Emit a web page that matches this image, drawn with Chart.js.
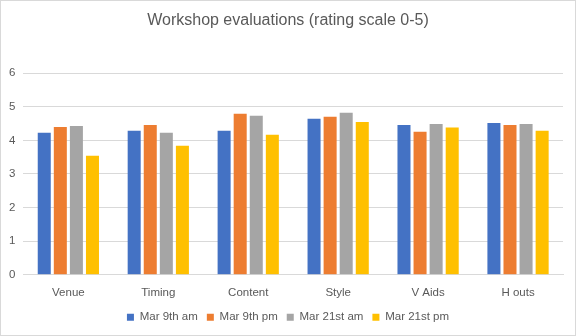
<!DOCTYPE html>
<html>
<head>
<meta charset="utf-8">
<script src="https://cdn.jsdelivr.net/npm/chart.js@4"></script>
<style>
  html, body { margin: 0; padding: 0; background: #fff; }
  #wrap { position: relative; width: 574px; height: 334px; border: 1px solid #d9d9d9; }
</style>
</head>
<body>
<div id="wrap"><canvas id="chart"></canvas></div>
<script>
const categories = ['Venue', 'Timing', 'Content', 'Style', 'V Aids', 'H outs'];
const seriesNames = ['Mar 9th am', 'Mar 9th pm', 'Mar 21st am', 'Mar 21st pm'];
const mar9Am  = [4.23, 4.29, 4.29, 4.64, 4.46, 4.52];
const mar9Pm  = [4.40, 4.46, 4.79, 4.70, 4.26, 4.46];
const mar21Am = [4.43, 4.23, 4.73, 4.82, 4.49, 4.49];
const mar21Pm = [3.54, 3.84, 4.17, 4.55, 4.38, 4.29];
const colors = ['#4472C4', '#ED7D31', '#A5A5A5', '#FFC000'];

const textColor = '#595959';
const font = 'Liberation Sans';

const allSeries = [mar9Am, mar9Pm, mar21Am, mar21Pm];

new Chart(document.getElementById('chart'), {
    type: 'bar',
    data: {
        labels: categories,
        datasets: allSeries.map((vals, i) => ({
            label: seriesNames[i],
            data: vals,
            backgroundColor: colors[i],
            categoryPercentage: 0.715,
            barPercentage: 0.81
        }))
    },
    options: {
        responsive: true,
        maintainAspectRatio: false,
        animation: false,
        layout: { padding: { left: 0, right: 0, top: 8, bottom: 2 } },
        plugins: {
            title: {
                display: true,
                text: 'Workshop evaluations (rating scale 0-5)',
                color: textColor,
                font: { family: font, size: 16, weight: 'normal' },
                padding: { top: 2, bottom: 43 }
            },
            legend: {
                position: 'bottom',
                labels: {
                    color: textColor,
                    font: { family: font, size: 11.5 },
                    boxWidth: 7,
                    boxHeight: 7,
                    padding: 9
                }
            },
            tooltip: { enabled: false }
        },
        scales: {
            x: {
                grid: { display: false },
                border: { color: '#d9d9d9' },
                ticks: { color: textColor, font: { family: font, size: 11.5 }, padding: 3 }
            },
            y: {
                min: 0,
                max: 6,
                ticks: { stepSize: 1, color: textColor, font: { family: font, size: 11.5 }, padding: 8 },
                grid: { color: '#d9d9d9', drawTicks: false },
                border: { display: false }
            },
            // empty right axis, only to keep a margin right of the plot
            yRight: {
                position: 'right',
                min: 0,
                max: 6,
                ticks: { display: false },
                grid: { display: false },
                border: { display: false },
                afterFit: (s) => { s.width = 12; }
            }
        }
    }
});
</script>
</body>
</html>
